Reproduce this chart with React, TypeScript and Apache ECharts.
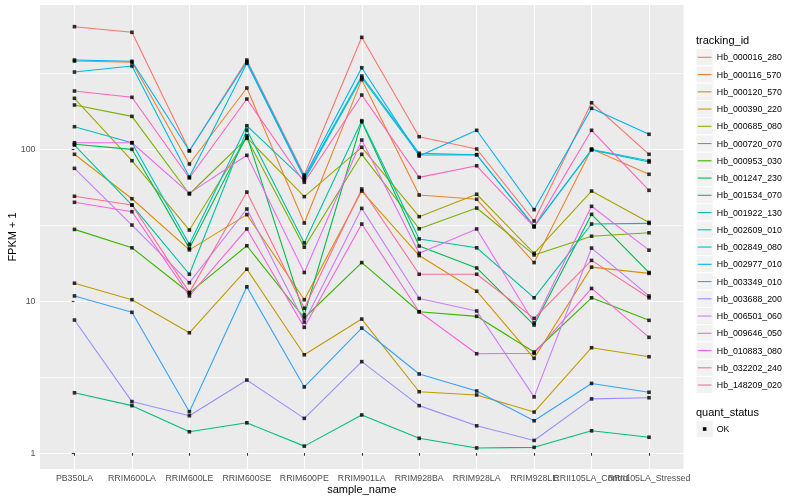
import React, { useEffect, useRef } from "react";
import * as echarts from "echarts";

const categories = [
  "PB350LA", "RRIM600LA", "RRIM600LE", "RRIM600SE", "RRIM600PE", "RRIM901LA",
  "RRIM928BA", "RRIM928LA", "RRIM928LE", "RRII105LA_Control", "RRII105LA_Stressed",
];

const trackingIds = [
  "Hb_000016_280", "Hb_000116_570", "Hb_000120_570", "Hb_000390_220", "Hb_000685_080",
  "Hb_000720_070", "Hb_000953_030", "Hb_001247_230", "Hb_001534_070", "Hb_001922_130",
  "Hb_002609_010", "Hb_002849_080", "Hb_002977_010", "Hb_003349_010", "Hb_003688_200",
  "Hb_006501_060", "Hb_009646_050", "Hb_010883_080", "Hb_032202_240", "Hb_148209_020",
];

const colors = [
  "#F8766D", "#EA8331", "#D89000", "#C09B00", "#A3A500", "#7CAE00", "#39B600",
  "#00BB4E", "#00BF7D", "#00C1A3", "#00BFC4", "#00BAE0", "#00B0F6", "#35A2FF",
  "#9590FF", "#C77CFF", "#E76BF3", "#FA62DB", "#FF62BC", "#FF6C91",
];

// FPKM + 1 per sample (same order as categories)
const hb_000016_280 = [638, 586, 97.4, 385, 67.4, 543, 120.5, 100, 33.6, 201.6, 92.3];
const hb_000116_570 = [379, 372, 79.7, 252, 32.6, 286, 49.8, 46.7, 17.9, 100, 68.2];
const hb_000120_570 = [92.3, 47.1, 21.7, 37.0, 10.2, 52.9, 19.9, 11.6, 4.2, 16.7, 15.2];
const hb_000390_220 = [13.1, 10.2, 6.18, 16.2, 4.43, 7.61, 2.53, 2.41, 1.86, 4.93, 4.3];
const hb_000685_080 = [215.6, 83.8, 29.3, 119, 48.6, 102.6, 35.9, 50.4, 20.6, 52.9, 32.9];
const hb_000720_070 = [194.8, 164, 50.6, 117.6, 22.6, 92.3, 29.9, 40.9, 20.1, 26.7, 28.1];
const hb_000953_030 = [29.6, 22.4, 11.3, 23.1, 7.73, 17.9, 8.5, 7.93, 4.62, 10.5, 7.46];
const hb_001247_230 = [107.4, 99.5, 22.2, 122.3, 8.09, 151.2, 23.0, 16.5, 6.95, 37.2, 15.4];
const hb_001534_070 = [2.49, 2.05, 1.38, 1.58, 1.11, 1.78, 1.25, 1.08, 1.09, 1.4, 1.27];
const hb_001922_130 = [106.2, 42.8, 15.0, 133.4, 24.1, 153.6, 25.6, 22.4, 10.5, 32.1, 32.4];
const hb_002609_010 = [140.2, 110, 23.6, 142.3, 62.5, 294.5, 91.3, 91.7, 30.9, 98.5, 82.1];
const hb_002849_080 = [321, 351.7, 65.4, 366.3, 64.2, 302, 93.7, 91.7, 31.1, 99.2, 83.8];
const hb_002977_010 = [385, 377.6, 97.4, 375.3, 65.7, 342.6, 89.9, 132.8, 39.9, 185.2, 125];
const hb_003349_010 = [10.8, 8.43, 1.87, 12.4, 2.72, 6.64, 3.31, 2.56, 1.63, 2.87, 2.51];
const hb_003688_200 = [7.5, 2.18, 1.76, 3.02, 1.69, 3.99, 2.05, 1.51, 1.21, 2.27, 2.31];
const hb_006501_060 = [74.6, 31.6, 13.2, 40.3, 7.27, 40.7, 10.4, 8.6, 2.34, 22.3, 10.8];
const hb_009646_050 = [110, 110, 51.1, 90.9, 15.4, 114.6, 20.6, 29.8, 7.17, 42.0, 21.6];
const hb_010883_080 = [44.6, 38.7, 10.8, 29.8, 6.71, 32.1, 8.5, 4.5, 4.52, 12.1, 5.77];
const hb_032202_240 = [240.7, 218.9, 64.5, 213.2, 60.4, 226.6, 65.1, 77.6, 30.7, 132.8, 53.5];
const hb_148209_020 = [48.9, 42.8, 11.4, 52.1, 8.95, 54.6, 15.0, 15.0, 7.69, 18.5, 10.5];

const seriesValues = [
  hb_000016_280, hb_000116_570, hb_000120_570, hb_000390_220, hb_000685_080,
  hb_000720_070, hb_000953_030, hb_001247_230, hb_001534_070, hb_001922_130,
  hb_002609_010, hb_002849_080, hb_002977_010, hb_003349_010, hb_003688_200,
  hb_006501_060, hb_009646_050, hb_010883_080, hb_032202_240, hb_148209_020,
];

const yMajorTicks = [1, 10, 100];
const yMinorTicks = [3.1623, 31.623, 316.23];
const yRange = [0.785, 886];

const FONT = "Liberation Sans, Arial, Helvetica, sans-serif";
const lg = (v: number) => Math.log10(v);

export default function App() {
  const ref = useRef<HTMLDivElement>(null);

  useEffect(() => {
    if (!ref.current) return;
    const chart = echarts.init(ref.current, null, { renderer: "svg" });

    const lineSeries = seriesValues.map((vals, s) => ({
      type: "line",
      name: trackingIds[s],
      data: vals.map((v, i) => [i, lg(v)]),
      showSymbol: false,
      symbol: "none",
      lineStyle: { color: colors[s], width: 1.1 },
      itemStyle: { color: colors[s] },
      silent: true,
      z: 2,
    }));

    const points: number[][] = [];
    seriesValues.forEach((vals) => vals.forEach((v, i) => points.push([i, lg(v)])));

    const graphic: any[] = [];
    const legX = 696;
    const key = 17.28;
    graphic.push({
      type: "text", x: legX, y: 40,
      style: { text: "tracking_id", font: `11px ${FONT}`, fill: "#000", verticalAlign: "middle" },
    });
    trackingIds.forEach((id, i) => {
      const cy = 57.3 + i * 17.25;
      graphic.push({
        type: "rect",
        shape: { x: legX, y: cy - key / 2, width: key, height: key },
        style: { fill: "#F2F2F2", stroke: "#FFFFFF", lineWidth: 1 },
      });
      graphic.push({
        type: "line",
        shape: { x1: legX + 1.7, y1: cy, x2: legX + key - 1.7, y2: cy },
        style: { stroke: colors[i], lineWidth: 1.1 },
      });
      graphic.push({
        type: "text", x: legX + key + 3.5, y: cy,
        style: { text: id, font: `8.8px ${FONT}`, fill: "#000", verticalAlign: "middle" },
      });
    });
    graphic.push({
      type: "text", x: legX, y: 412,
      style: { text: "quant_status", font: `11px ${FONT}`, fill: "#000", verticalAlign: "middle" },
    });
    const okY = 429;
    graphic.push({
      type: "rect",
      shape: { x: legX, y: okY - key / 2, width: key, height: key },
      style: { fill: "#F2F2F2", stroke: "#FFFFFF", lineWidth: 1 },
    });
    graphic.push({
      type: "rect",
      shape: { x: legX + key / 2 - 1.8, y: okY - 1.8, width: 3.6, height: 3.6 },
      style: { fill: "#000" },
    });
    graphic.push({
      type: "text", x: legX + key + 3.5, y: okY,
      style: { text: "OK", font: `8.8px ${FONT}`, fill: "#000", verticalAlign: "middle" },
    });

    // main x axis carries all labels but one; the other label sits on an overlaid axis
    // so that the overlapping labels of the reference are both kept.
    const xMain = categories.map((_, i) => i).filter((i) => i !== 9);
    const xAlt = [9];

    const xLabelBase = {
      margin: 4.5,
      fontSize: 8.8,
      color: "#4D4D4D",
      fontFamily: FONT,
      hideOverlap: false,
      showMinLabel: true,
      showMaxLabel: true,
      formatter: (v: number) => categories[Math.round(v)] ?? "",
    };

    chart.setOption({
      animation: false,
      textStyle: { fontFamily: FONT },
      grid: {
        left: 40, top: 5, right: 116.5, bottom: 31,
        show: true, backgroundColor: "#EBEBEB", borderWidth: 0,
        containLabel: false,
        outerBoundsMode: "none",
      },
      xAxis: [
        {
          type: "value",
          min: -0.6,
          max: 10.6,
          name: "sample_name",
          nameLocation: "middle",
          nameGap: 14,
          nameMoveOverlap: false,
          nameTextStyle: { fontSize: 11, color: "#000", fontFamily: FONT },
          axisLine: { show: false },
          axisTick: {
            show: true, length: 2.75, customValues: categories.map((_, i) => i),
            lineStyle: { color: "#333333", width: 1.07 },
          },
          axisLabel: { ...xLabelBase, customValues: xMain },
          splitLine: { show: true, lineStyle: { color: "#FFFFFF", width: 1.1 } },
        },
        {
          type: "value",
          min: -0.6,
          max: 10.6,
          position: "bottom",
          axisLine: { show: false },
          axisTick: { show: false, customValues: xAlt },
          axisLabel: { ...xLabelBase, customValues: xAlt },
          splitLine: { show: false },
        },
      ],
      yAxis: [
        {
          type: "value",
          min: lg(yRange[0]),
          max: lg(yRange[1]),
          name: "FPKM + 1",
          nameLocation: "middle",
          nameRotate: 90,
          nameGap: 22.5,
          nameMoveOverlap: false,
          nameTextStyle: { fontSize: 11, color: "#000", fontFamily: FONT },
          axisLine: { show: false },
          axisTick: {
            show: true, length: 2.75, customValues: yMajorTicks.map(lg),
            lineStyle: { color: "#333333", width: 1.07 },
          },
          axisLabel: {
            customValues: yMajorTicks.map(lg),
            margin: 4.5,
            fontSize: 8.8,
            color: "#4D4D4D",
            fontFamily: FONT,
            formatter: (v: number) => String(Math.round(Math.pow(10, v))),
          },
          splitLine: { show: true, lineStyle: { color: "#FFFFFF", width: 1.1 } },
        },
        {
          type: "value",
          min: lg(yRange[0]),
          max: lg(yRange[1]),
          position: "left",
          axisLine: { show: false },
          axisTick: { show: false, customValues: yMinorTicks.map(lg) },
          axisLabel: { show: false, customValues: yMinorTicks.map(lg) },
          splitLine: { show: true, lineStyle: { color: "#FFFFFF", width: 0.55 } },
        },
      ],
      series: [
        ...lineSeries,
        {
          type: "scatter",
          name: "OK",
          data: points,
          symbol: "rect",
          symbolSize: 3.6,
          itemStyle: { color: "#000000" },
          silent: true,
          z: 5,
        },
      ],
      graphic,
    });

    return () => chart.dispose();
  }, []);

  return (
    <div
      ref={ref}
      style={{ position: "fixed", left: 0, top: 0, width: 800, height: 500 }}
    />
  );
}
